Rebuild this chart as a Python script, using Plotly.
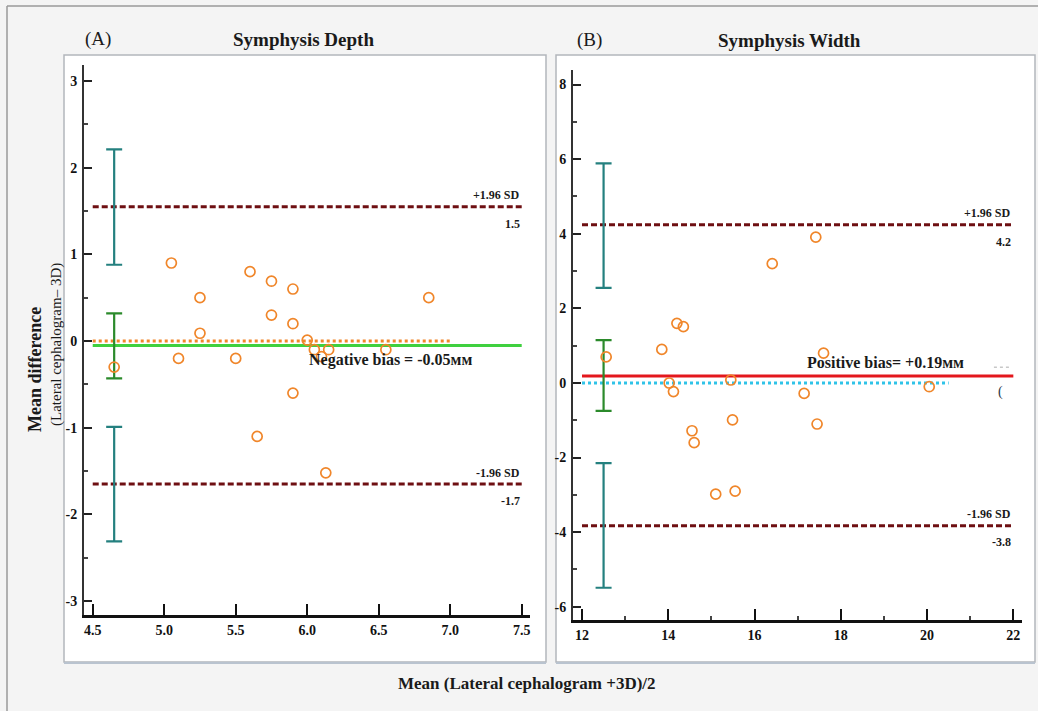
import plotly.graph_objects as go

W, H = 1038, 711

# ---------------- data ----------------
# Panel A: Symphysis Depth
depth_mean = [5.05, 5.25, 5.25, 5.60, 5.75, 5.75, 5.90, 5.90, 6.00, 6.85,
              4.65, 5.10, 5.50, 5.90, 5.65, 6.13, 6.05, 6.10, 6.15, 6.55]
depth_diff = [0.90, 0.50, 0.09, 0.80, 0.69, 0.30, 0.60, 0.20, 0.01, 0.50,
              -0.30, -0.20, -0.20, -0.60, -1.10, -1.52, -0.10, -0.18, -0.10, -0.10]
depth_bias = -0.05
depth_upper = 1.55
depth_lower = -1.65
depth_upper_label = "1.5"
depth_lower_label = "-1.7"
depth_line_x = [4.5, 7.5]
depth_zero_x = [4.5, 7.0]
depth_ci_x = 4.65
depth_ci_upper = [0.88, 2.21]
depth_ci_bias = [-0.43, 0.32]
depth_ci_lower = [-2.31, -0.99]
depth_xticks = [4.5, 5.0, 5.5, 6.0, 6.5, 7.0, 7.5]
depth_xticktext = ["4.5", "5.0", "5.5", "6.0", "6.5", "7.0", "7.5"]
depth_yticks = [-3, -2, -1, 0, 1, 2, 3]
depth_yticktext = ["-3", "-2", "-1", "0", "1", "2", "3"]
depth_yminor = [-2.5, -1.5, -0.5, 0.5, 1.5, 2.5]

# Panel B: Symphysis Width
width_mean = [17.42, 16.41, 14.20, 14.35, 12.56, 13.85, 17.60, 14.02, 14.12, 15.45,
              17.15, 20.05, 15.49, 17.45, 14.55, 14.60, 15.10, 15.55]
width_diff = [3.91, 3.20, 1.60, 1.51, 0.70, 0.90, 0.80, 0.00, -0.23, 0.08,
              -0.28, -0.10, -0.99, -1.10, -1.28, -1.60, -2.98, -2.90]
width_bias = 0.19
width_upper = 4.24
width_lower = -3.83
width_upper_label = "4.2"
width_lower_label = "-3.8"
width_line_x = [12, 22]
width_zero_x = [12, 20.5]
width_ci_x = 12.5
width_ci_upper = [2.55, 5.89]
width_ci_bias = [-0.75, 1.15]
width_ci_lower = [-5.49, -2.15]
width_xticks = [12, 14, 16, 18, 20, 22]
width_xticktext = ["12", "14", "16", "18", "20", "22"]
width_xminor = [13, 15, 17, 19, 21]
width_yticks = [-6, -4, -2, 0, 2, 4, 6, 8]
width_yticktext = ["-6", "-4", "-2", "0", "2", "4", "6", "8"]
width_yminor = [-5, -3, -1, 1, 3, 5, 7]

# ---------------- styles ----------------
FONT = "Liberation Serif"
ORANGE = "#f0862a"
MAROON = "#6e0f12"
TEAL = "#24807f"
DKGREEN = "#2b8a2b"
GREEN = "#3fd03f"
RED = "#e3171c"
CYAN = "#2fc3e8"


def px(x):
    return x / W


def py(y):
    return 1 - y / H


fig = go.Figure()


def add_panel(xa, ya, mean, diff, bias, upper, lower, line_x, zero_x,
              ci_x, ci_list, bias_color, zero_color):
    # limits of agreement
    for v in (upper, lower):
        fig.add_trace(go.Scatter(x=line_x, y=[v, v], mode="lines", xaxis=xa, yaxis=ya,
                                 line=dict(color=MAROON, width=3, dash="6px,3px"),
                                 hoverinfo="skip", showlegend=False))
    # zero line (dotted)
    fig.add_trace(go.Scatter(x=zero_x, y=[0, 0], mode="lines", xaxis=xa, yaxis=ya,
                             line=dict(color=zero_color, width=3, dash="dot"),
                             hoverinfo="skip", showlegend=False))
    # bias line
    fig.add_trace(go.Scatter(x=line_x, y=[bias, bias], mode="lines", xaxis=xa, yaxis=ya,
                             line=dict(color=bias_color, width=3),
                             hoverinfo="skip", showlegend=False))
    # confidence intervals
    for (lo, hi), col in ci_list:
        mid = (lo + hi) / 2
        fig.add_trace(go.Scatter(x=[ci_x], y=[mid], mode="markers", xaxis=xa, yaxis=ya,
                                 marker=dict(size=1, color="rgba(0,0,0,0)"),
                                 error_y=dict(type="data", symmetric=False,
                                              array=[hi - mid], arrayminus=[mid - lo],
                                              color=col, thickness=2.2, width=8),
                                 hoverinfo="skip", showlegend=False))
    # points
    fig.add_trace(go.Scatter(x=mean, y=diff, mode="markers", xaxis=xa, yaxis=ya,
                             marker=dict(symbol="circle-open", size=10, color=ORANGE,
                                         line=dict(width=1.7, color=ORANGE)),
                             showlegend=False))


add_panel("x", "y", depth_mean, depth_diff, depth_bias, depth_upper, depth_lower,
          depth_line_x, depth_zero_x, depth_ci_x,
          [(depth_ci_upper, TEAL), (depth_ci_bias, DKGREEN), (depth_ci_lower, TEAL)],
          GREEN, ORANGE)
add_panel("x2", "y2", width_mean, width_diff, width_bias, width_upper, width_lower,
          width_line_x, width_zero_x, width_ci_x,
          [(width_ci_upper, TEAL), (width_ci_bias, DKGREEN), (width_ci_lower, TEAL)],
          RED, CYAN)

tickfont = dict(family=FONT, size=14, color="#111", weight="bold")

common_x = dict(showgrid=False, zeroline=False, showline=True, linecolor="#111",
                linewidth=3, ticks="inside", ticklen=11, tickwidth=2, tickcolor="#111",
                tickfont=tickfont, tickmode="array")
common_y = dict(showgrid=False, zeroline=False, showline=True, linecolor="#333",
                linewidth=2, ticks="inside", ticklen=8, tickwidth=2, tickcolor="#222",
                tickfont=tickfont, tickmode="array", ticklabelstandoff=2)

fig.update_layout(
    width=W, height=H, margin=dict(l=0, r=0, t=0, b=0),
    paper_bgcolor="#f4f4f4", plot_bgcolor="rgba(0,0,0,0)",
    xaxis=dict(domain=[px(84), px(530)], range=[4.439, 7.558], anchor="y",
               tickvals=depth_xticks, ticktext=depth_xticktext, **common_x),
    yaxis=dict(domain=[py(615), py(65)], range=[-3.160, 3.184], anchor="x",
               tickvals=depth_yticks, ticktext=depth_yticktext,
               minor=dict(tickmode="array", tickvals=depth_yminor, ticks="inside",
                          ticklen=4, tickwidth=1.5, tickcolor="#444"),
               **common_y),
    xaxis2=dict(domain=[px(573), px(1021.7)], range=[11.791, 22.194], anchor="y2",
                tickvals=width_xticks, ticktext=width_xticktext,
                minor=dict(tickmode="array", tickvals=width_xminor, ticks="inside",
                           ticklen=4, tickwidth=1.5, tickcolor="#444"),
                **common_x),
    yaxis2=dict(domain=[py(620), py(70)], range=[-6.354, 8.391], anchor="x2",
                tickvals=width_yticks, ticktext=width_yticktext,
                minor=dict(tickmode="array", tickvals=width_yminor, ticks="inside",
                           ticklen=4, tickwidth=1.5, tickcolor="#444"),
                **common_y),
)

# ---------------- background shapes ----------------
shapes = [
    # outer frame
    dict(type="line", xref="paper", yref="paper", x0=px(7), x1=px(7), y0=py(711), y1=py(6),
         line=dict(color="#9a9a9a", width=1.5), layer="below"),
    dict(type="line", xref="paper", yref="paper", x0=px(7), x1=1, y0=py(6), y1=py(6),
         line=dict(color="#9a9a9a", width=1.5), layer="below"),
    # panel boxes
    dict(type="rect", xref="paper", yref="paper", x0=px(64), x1=px(546), y0=py(662), y1=py(55),
         fillcolor="white", line=dict(color="#b3b6bc", width=1.5), layer="below"),
    dict(type="rect", xref="paper", yref="paper", x0=px(556), x1=px(1035), y0=py(662), y1=py(55),
         fillcolor="white", line=dict(color="#b3b6bc", width=1.5), layer="below"),
    dict(type="line", xref="paper", yref="paper", x0=px(64), x1=px(546), y0=py(663), y1=py(663),
         line=dict(color="#b9c3cf", width=2), layer="below"),
    dict(type="line", xref="paper", yref="paper", x0=px(556), x1=px(1035), y0=py(663), y1=py(663),
         line=dict(color="#b9c3cf", width=2), layer="below"),
    # faint dotted artefact in panel B
    dict(type="line", xref="x2", yref="y2", x0=21.55, x1=21.95, y0=0.42, y1=0.42,
         line=dict(color="#c8c8c8", width=1.5, dash="dot"), layer="below"),
]
fig.update_layout(shapes=shapes)

# ---------------- annotations ----------------
ann = []


def txt(text, x, y, xref="paper", yref="paper", size=13, bold=False, xanchor="center",
        yanchor="middle", angle=0, yshift=0, color="#1a1a1a"):
    ann.append(dict(text=text, x=x, y=y, xref=xref, yref=yref, showarrow=False,
                    xanchor=xanchor, yanchor=yanchor, textangle=angle, yshift=yshift,
                    font=dict(family=FONT, size=size, color=color,
                              weight="bold" if bold else "normal")))


# titles
txt("(A)", px(98), py(39), size=19)
txt("Symphysis Depth", px(303), py(39), size=19, bold=True)
txt("(B)", px(589), py(40), size=19)
txt("Symphysis Width", px(789), py(40), size=19, bold=True)
txt("Mean (Lateral cephalogram +3D)/2", px(527), py(683), size=17, bold=True)
txt("Mean difference", px(35), py(370), size=18, bold=True, angle=-90)
txt("(Lateral cephalogram– 3D)", px(56), py(345), size=15, angle=-90)

# limit labels panel A
txt("+1.96 SD", 7.5, depth_upper, "x", "y", size=12, bold=True, xanchor="right", yshift=12)
txt(depth_upper_label, 7.5, depth_upper, "x", "y", size=12, bold=True, xanchor="right", yshift=-17)
txt("-1.96 SD", 7.5, depth_lower, "x", "y", size=12, bold=True, xanchor="right", yshift=11)
txt(depth_lower_label, 7.5, depth_lower, "x", "y", size=12, bold=True, xanchor="right", yshift=-17)
txt("Negative bias = -0.05мм", 6.0, depth_bias, "x", "y", size=16, bold=True,
    xanchor="left", yshift=-15)

# limit labels panel B
txt("+1.96 SD", 22, width_upper, "x2", "y2", size=12, bold=True, xanchor="right", yshift=12)
txt(width_upper_label, 22, width_upper, "x2", "y2", size=12, bold=True, xanchor="right", yshift=-17)
txt("-1.96 SD", 22, width_lower, "x2", "y2", size=12, bold=True, xanchor="right", yshift=12)
txt(width_lower_label, 22, width_lower, "x2", "y2", size=12, bold=True, xanchor="right", yshift=-16)
txt("Positive bias= +0.19мм", 17.17, width_bias, "x2", "y2", size=16, bold=True,
    xanchor="left", yshift=13)
txt("(", 21.7, -0.23, "x2", "y2", size=14, color="#2a3a4a")

fig.update_layout(annotations=ann)

fig.write_html("out.html")
